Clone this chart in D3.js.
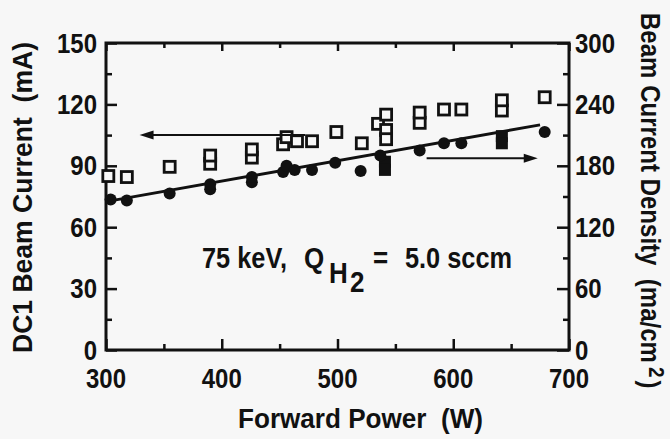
<!DOCTYPE html>
<html>
<head>
<meta charset="utf-8">
<script src="https://cdn.jsdelivr.net/npm/d3@7.9.0/dist/d3.min.js"></script>
<style>
  html, body { margin: 0; padding: 0; background: #f7f7f7; }
  svg { display: block; }
  text { font-family: "Liberation Sans", Arial, sans-serif; font-weight: bold; fill: #111; white-space: pre; }
</style>
</head>
<body>
<div id="chart"></div>
<script>
// tick labels
const powerTicks = [300, 400, 500, 600, 700];
const currentTicks = [0, 30, 60, 90, 120, 150];
const densityTicks = [0, 60, 120, 180, 240, 300];

// DC1 beam current (mA), open squares -> left axis
const squarePower   = [302, 318, 355, 390, 390, 426, 426, 453, 456, 465, 478, 499, 521, 535, 542, 542, 542, 571, 571, 592, 607, 642, 642, 679];
const squareCurrent = [85, 84.5, 89.5, 91, 95, 94, 98, 100.5, 104, 102, 102, 106.5, 101, 110.5, 115, 107.5, 103, 111, 116, 117.5, 117.5, 117, 122, 123.5];

// dark filled squares
const filledPower   = [541, 541, 642, 642];
const filledCurrent = [92, 88, 104.5, 101];

// beam current density (ma/cm^2), filled circles -> right axis
const circlePower   = [304, 318, 355, 390, 390, 426, 426, 453, 456, 463, 478, 498, 520, 537, 571, 592, 607, 679];
const circleDensity = [147, 146, 153, 157, 162, 164, 169, 174, 180, 176, 176, 183, 175, 190, 195, 202, 202, 213];

// linear fit through the density points
const fitPower   = [300, 675];
const fitDensity = [145, 220];

// arrows pointing to each axis
const leftArrow  = { from: 472, to: 329, current: 105 };
const rightArrow = { from: 577, to: 673, density: 187.4 };

const W = 670, H = 439;
const margin = { top: 43, right: 101, bottom: 89, left: 106 };

const svg = d3.select("#chart").append("svg")
  .attr("width", W)
  .attr("height", H);

const x = d3.scaleLinear().domain([300, 700]).range([margin.left, W - margin.right]);
const yL = d3.scaleLinear().domain([0, 150]).range([H - margin.bottom, margin.top]);
const yR = d3.scaleLinear().domain([0, 300]).range([H - margin.bottom, margin.top]);

const stretch = 1.12;
function label(px, py, str, anchor, extra = "", size = 24) {
  return svg.append("text")
    .attr("transform", `translate(${px},${py}) ${extra} scale(1,${stretch})`)
    .attr("text-anchor", anchor)
    .style("font-size", size + "px")
    .text(str);
}

// ticks (inward), major + minor
function ticks(axisFn, scale, values, size, pos) {
  svg.append("g")
    .attr("transform", pos)
    .call(axisFn(scale).tickValues(values).tickSize(size).tickFormat(""))
    .call(g => g.select(".domain").remove())
    .selectAll("line").attr("stroke", "#111").attr("stroke-width", 2.5);
}
const minorPower = d3.range(350, 700, 100);
ticks(d3.axisTop, x, powerTicks, 11, `translate(0,${yL(0)})`);
ticks(d3.axisTop, x, minorPower, 6, `translate(0,${yL(0)})`);
ticks(d3.axisBottom, x, powerTicks, 8, `translate(0,${yL(150)})`);
ticks(d3.axisBottom, x, minorPower, 5, `translate(0,${yL(150)})`);
ticks(d3.axisRight, yL, currentTicks, 11, `translate(${x(300)},0)`);
ticks(d3.axisRight, yL, d3.range(15, 150, 30), 6, `translate(${x(300)},0)`);
ticks(d3.axisLeft, yR, densityTicks, 12, `translate(${x(700)},0)`);
ticks(d3.axisLeft, yR, d3.range(30, 300, 60), 6, `translate(${x(700)},0)`);

// frame
svg.append("rect")
  .attr("x", x(300)).attr("y", yL(150))
  .attr("width", x(700) - x(300)).attr("height", yL(0) - yL(150))
  .attr("fill", "none").attr("stroke", "#111").attr("stroke-width", 3);

// tick labels
powerTicks.forEach(v => label(x(v), yL(0) + 38, v, "middle"));
currentTicks.forEach(v => label(x(300) - 9, yL(v) + 9.5, v, "end"));
densityTicks.forEach(v => label(x(700) + 6, yR(v) + 9.5, v, "start"));

// axis titles
label(238, 428, "Forward Power  (W)", "start")
  .attr("textLength", 245).attr("lengthAdjust", "spacingAndGlyphs");
label(32, 353, "DC1 Beam Current  (mA)", "start", "rotate(-90)")
  .attr("textLength", 311).attr("lengthAdjust", "spacingAndGlyphs");
const rt = svg.append("text")
  .attr("transform", `translate(641,13) rotate(90) scale(1,${stretch})`)
  .attr("text-anchor", "start")
  .style("font-size", "24px");
rt.append("tspan").attr("textLength", 350).attr("lengthAdjust", "spacingAndGlyphs")
  .text("Beam Current Density  (ma/cm");
rt.append("tspan").attr("dx", 4).attr("dy", -7).style("font-size", "19px").text("2");
rt.append("tspan").attr("dx", 3).attr("dy", 7).text(")");

// fit line
const line = d3.line().x(d => x(d[0])).y(d => yR(d[1]));
svg.append("path")
  .datum(d3.zip(fitPower, fitDensity))
  .attr("d", line)
  .attr("fill", "none").attr("stroke", "#111").attr("stroke-width", 3);

// markers
const sq = 11;
svg.append("g").selectAll("rect")
  .data(d3.zip(squarePower, squareCurrent))
  .join("rect")
  .attr("x", d => x(d[0]) - sq / 2).attr("y", d => yL(d[1]) - sq / 2)
  .attr("width", sq).attr("height", sq)
  .attr("fill", "#f7f7f7").attr("stroke", "#111").attr("stroke-width", 2.8);

svg.append("g").selectAll("rect")
  .data(d3.zip(filledPower, filledCurrent))
  .join("rect")
  .attr("x", d => x(d[0]) - 6).attr("y", d => yL(d[1]) - 6)
  .attr("width", 12).attr("height", 12)
  .attr("fill", "#111");

svg.append("g").selectAll("circle")
  .data(d3.zip(circlePower, circleDensity))
  .join("circle")
  .attr("cx", d => x(d[0])).attr("cy", d => yR(d[1]))
  .attr("r", 6)
  .attr("fill", "#111");

// arrows
function arrow(x1, x2, py) {
  const dir = Math.sign(x2 - x1);
  svg.append("line")
    .attr("x1", x1).attr("x2", x2 - dir * 8).attr("y1", py).attr("y2", py)
    .attr("stroke", "#111").attr("stroke-width", 2);
  svg.append("path")
    .attr("d", `M${x2},${py} L${x2 - dir * 14},${py - 4.5} L${x2 - dir * 14},${py + 4.5} Z`)
    .attr("fill", "#111");
}
arrow(x(leftArrow.from), x(leftArrow.to), yL(leftArrow.current));
arrow(x(rightArrow.from), x(rightArrow.to), yR(rightArrow.density));

// annotation: 75 keV,  Q_{H_2} = 5.0 sccm
label(202, 268, "75 keV,", "start", "", 26).attr("textLength", 85).attr("lengthAdjust", "spacingAndGlyphs");
label(304, 268, "Q", "start", "", 26);
label(329, 283, "H", "start", "", 26);
label(350, 292, "2", "start", "", 26);
label(373, 268, "=", "start", "", 26);
label(405, 268, "5.0 sccm", "start", "", 26).attr("textLength", 107).attr("lengthAdjust", "spacingAndGlyphs");
</script>
</body>
</html>
